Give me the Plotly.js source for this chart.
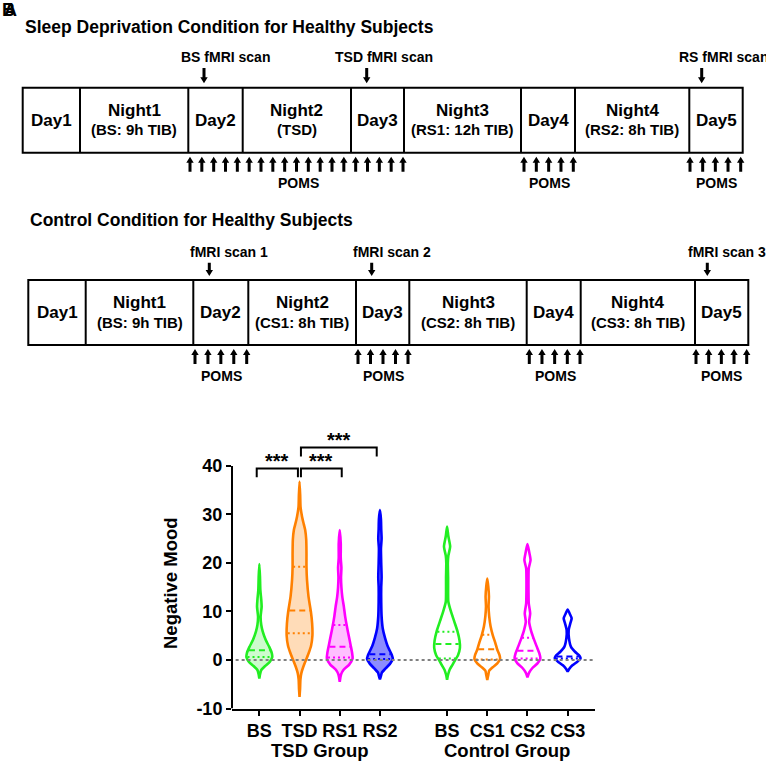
<!DOCTYPE html>
<html><head><meta charset="utf-8">
<script src="https://cdn.plot.ly/plotly-3.0.1.min.js"></script>
<style>html,body{margin:0;padding:0;background:#fff}#chart{width:766px;height:761px}</style>
</head><body><div id="chart"></div>
<script>
// ================= DATA =================
const conditions   = ['BS','TSD','RS1','RS2','BS','CS1','CS2','CS3'];
const conditionPos = [0, 1, 2, 3, 4.67, 5.67, 6.67, 7.67];
const groupLabels  = ['TSD Group','Control Group'];
const yTickVals    = [-10, 0, 10, 20, 30, 40];

// violin density profiles (Negative Mood level, relative density), top to bottom
const bsTsdLevels  = [19.8,17.2,14.4,12.4,11,8.9,7.2,5.9,4.1,2.7,1.4,0.55,-0.35,-1.25,-2.06,-2.9,-3.8];
const bsTsdDensity = [0,0.05,0.08,0.15,0.18,0.1,0.15,0.26,0.5,0.77,0.97,1,0.82,0.45,0.15,0.06,0];
const tsdLevels    = [36.8,34,31.5,29.5,28,26.8,24.8,22,19.2,16.5,13,10,7.5,5,3,1.5,0,-1.5,-2.7,-4,-6,-7.6];
const tsdDensity   = [0,0.05,0.08,0.2,0.33,0.44,0.52,0.54,0.54,0.58,0.7,0.88,0.98,1,0.9,0.72,0.5,0.28,0.14,0.07,0.04,0];
const rs1Levels    = [26.8,24,21,19,17,15,13,11,9,7,5,3,1.5,0.3,-1,-2,-3,-4.5];
const rs1Density   = [0,0.08,0.08,0.13,0.1,0.13,0.2,0.32,0.42,0.55,0.7,0.85,0.96,1,0.72,0.3,0.1,0];
const rs2Levels    = [30.9,29,27,25,23,20,17,15,12,9,6.5,4.5,3,2,1,0.2,-0.8,-1.8,-2.6,-3.3,-4];
const rs2Density   = [0,0.08,0.1,0.13,0.08,0.1,0.13,0.1,0.1,0.13,0.22,0.4,0.58,0.75,0.93,1,0.78,0.42,0.15,0.08,0];
const bsCtlLevels  = [27.5,25.5,23.4,21.5,20,17,14,12,10,8,6,4,2.5,1,0,-1,-2,-3,-4.1];
const bsCtlDensity = [0,0.1,0.24,0.1,0.06,0.08,0.08,0.1,0.3,0.55,0.8,0.97,1,0.85,0.63,0.42,0.2,0.08,0];
const cs1Levels    = [16.8,15.1,13.1,11,9,6.9,5.2,3.5,2.1,1.1,0.2,-0.7,-1.5,-2.2,-3.1,-4.1];
const cs1Density   = [0,0.08,0.13,0.1,0.15,0.26,0.42,0.63,0.78,0.94,1,0.78,0.42,0.15,0.08,0];
const cs2Levels    = [23.9,22.3,20.6,18.9,16.8,14.4,11.7,9.6,7.9,6.2,4.5,2.7,1.4,0.3,-0.7,-1.7,-2.6,-3.6];
const cs2Density   = [0,0.13,0.24,0.1,0.08,0.08,0.1,0.21,0.13,0.26,0.47,0.73,0.92,1,0.78,0.37,0.13,0];
const cs3Levels    = [10.4,9.6,8.6,7.6,6.2,4.5,2.7,1.7,0.8,0.3,-0.4,-1.1,-1.8,-2.4];
const cs3Density   = [0,0.15,0.31,0.21,0.08,0.1,0.26,0.57,0.94,1,0.73,0.37,0.13,0];

const medians   = [2.0, 10.2, 2.75, 1.2, 3.3, 2.2, 1.9, 0.7];
const quartile1 = [0.6, 5.5, 0.5, 0.2, 0.3, 0.1, 0.3, 0.3];
const quartile3 = [null, 19.2, 7.2, null, 5.8, 5.2, 4.6, null];

const sigPairs  = [[0,1],[1,2],[1,3]];
const sigLabels = ['***','***','***'];

// timeline texts
const segMain   = ['Day1','Night1','Day2','Night2','Day3','Night3','Day4','Night4','Day5'];
const sdSub     = ['','(BS: 9h TIB)','','(TSD)','','(RS1: 12h TIB)','','(RS2: 8h TIB)',''];
const ctlSub    = ['','(BS: 9h TIB)','','(CS1: 8h TIB)','','(CS2: 8h TIB)','','(CS3: 8h TIB)',''];
const sdScans   = ['BS fMRI scan','TSD fMRI scan','RS fMRI scan'];
const ctlScans  = ['fMRI scan 1','fMRI scan 2','fMRI scan 3'];
const sdTitle   = 'Sleep Deprivation Condition for Healthy Subjects';
const ctlTitle  = 'Control Condition for Healthy Subjects';
const pomsLabel = 'POMS';

// ================= STYLE / LAYOUT =================
const W = 766, H = 761;
const PX = x => x / W, PY = y => 1 - y / H;
const FONT = 'Liberation Sans, Arial, Helvetica, sans-serif';
const lineColors = ['#22ee22','#ff8000','#ff00ff','#0000ff','#22ee22','#ff8000','#ff00ff','#0000ff'];
const fillColors = ['rgba(34,238,34,0.22)','rgba(255,128,0,0.28)','rgba(255,0,255,0.25)','rgba(0,0,255,0.45)',
                    'rgba(0,0,0,0)','rgba(0,0,0,0)','rgba(0,0,0,0)','rgba(0,0,0,0)'];
const halfWidth = 0.32;

const profiles = [
  [bsTsdLevels,bsTsdDensity],[tsdLevels,tsdDensity],[rs1Levels,rs1Density],[rs2Levels,rs2Density],
  [bsCtlLevels,bsCtlDensity],[cs1Levels,cs1Density],[cs2Levels,cs2Density],[cs3Levels,cs3Density]
];

function densityAt(levels, dens, y) {
  for (let i = 0; i < levels.length - 1; i++) {
    if (levels[i] >= y && y >= levels[i+1]) {
      const t = (levels[i] - y) / (levels[i] - levels[i+1]);
      return dens[i] + t * (dens[i+1] - dens[i]);
    }
  }
  return 0;
}

const traces = [];
profiles.forEach(([lv, dn], k) => {
  const c = conditionPos[k];
  const xs = [], ys = [];
  lv.forEach((y, i) => { xs.push(c + dn[i] * halfWidth); ys.push(y); });
  for (let i = lv.length - 1; i >= 0; i--) { xs.push(c - dn[i] * halfWidth); ys.push(lv[i]); }
  traces.push({
    type: 'scatter', mode: 'lines', x: xs, y: ys, fill: 'toself', fillcolor: fillColors[k],
    line: { color: lineColors[k], width: 2.6, shape: 'spline', smoothing: 0.6 }, hoverinfo: 'skip'
  });
});
// median and quartile lines
profiles.forEach(([lv, dn], k) => {
  const c = conditionPos[k];
  const add = (v, dash) => {
    if (v === null) return;
    const d = densityAt(lv, dn, v) * halfWidth * 0.92;
    traces.push({ type: 'scatter', mode: 'lines', x: [c - d, c + d], y: [v, v],
      line: { color: lineColors[k], width: 2, dash: dash }, hoverinfo: 'skip' });
  };
  add(medians[k], '6px,4px');
  add(quartile1[k], '2px,3px');
  add(quartile3[k], '2px,3px');
});

// significance brackets
const sigBase = [39.5, 39.5, 43.8];
const sigLeg = 1.85;
const sigInset = [[-0.065, -0.04], [0.035, 0.05], [0.035, -0.08]];
const annotations = [];
sigPairs.forEach(([a, b], k) => {
  const xa = conditionPos[a] + sigInset[k][0], xb = conditionPos[b] + sigInset[k][1];
  traces.push({ type: 'scatter', mode: 'lines', x: [xa, xa, xb, xb],
    y: [sigBase[k] - sigLeg, sigBase[k], sigBase[k], sigBase[k] - sigLeg],
    line: { color: '#000', width: 2 }, hoverinfo: 'skip' });
  annotations.push({ xref: 'x', yref: 'y', x: (xa + xb) / 2, y: sigBase[k] - 1.1, xanchor: 'center', yanchor: 'bottom',
    text: '<b>' + sigLabels[k] + '</b>', showarrow: false, font: { size: 20, color: '#000', family: FONT } });
});

const shapes = [];
// zero line
shapes.push({ type: 'line', xref: 'x domain', yref: 'y', x0: 0.01, x1: 0.995, y0: 0, y1: 0,
  line: { color: '#808080', width: 2.2, dash: 'dot' } });
// y axis line (only from -10 to 40)
shapes.push({ type: 'line', xref: 'x domain', yref: 'y', x0: 0, x1: 0, y0: -10, y1: 40,
  line: { color: '#000', width: 2 } });

function txt(x, y, text, size, xanchor, extra) {
  return Object.assign({ xref: 'paper', yref: 'paper', x: PX(x), y: PY(y), xanchor: xanchor || 'center',
    yanchor: 'middle', text: '<b>' + text + '</b>', showarrow: false,
    font: { size: size, color: '#000', family: FONT } }, extra || {});
}

// axis titles
annotations.push(txt(170, 583, 'Negative Mood', 18.5, 'center', { textangle: -90 }));
const groupCenters = [(conditionPos[0] + conditionPos[3]) / 2, (conditionPos[4] + conditionPos[7]) / 2];
groupLabels.forEach((g, i) => annotations.push({ xref: 'x', yref: 'paper', x: groupCenters[i], y: PY(750),
  xanchor: 'center', yanchor: 'middle',
  text: '<b>' + g + '</b>', showarrow: false, font: { size: 18.5, color: '#000', family: FONT } }));

// ---------- timeline diagrams ----------
const rows = [
  { title: sdTitle, titleX: 22.7, titleY: 26.7, top: 87.7, bottom: 152.7,
    edges: [22.7, 80, 188.3, 242.7, 351, 404, 521, 575, 689.3, 742.7], sub: sdSub, scans: sdScans,
    scanX: [204, 366.7, 701.7], scanLabelX: [179, 333, 677], scanLabelY: 57, scanArrow: [68, 83.3],
    pomsRuns: [[190, 403, 19], [524, 573.3, 5], [690, 740.7, 5]], pomsArrow: [156.7, 171.7],
    pomsX: [298, 549, 716], pomsY: 183.3 },
  { title: ctlTitle, titleX: 28.3, titleY: 220, top: 280, bottom: 345,
    edges: [28.3, 85.7, 193.3, 248.3, 356, 409.3, 526.7, 580.7, 695, 748.3], sub: ctlSub, scans: ctlScans,
    scanX: [209.3, 371.7, 707.3], scanLabelX: [188, 350.7, 686], scanLabelY: 252, scanArrow: [262.7, 276],
    pomsRuns: [[195, 246.7, 5], [358, 408, 5], [529.3, 580, 5], [696, 746.7, 5]], pomsArrow: [349, 364],
    pomsX: [221, 383, 555, 721], pomsY: 376 }
];

function arrowPath(x, yTip, yTail) {
  const dir = yTail > yTip ? 1 : -1;   // pixel direction from tip to tail
  const hh = 6 * dir, hw = 3.7, sw = 1.5;
  const pts = [[x, yTip], [x + hw, yTip + hh], [x + sw, yTip + hh], [x + sw, yTail], [x - sw, yTail],
               [x - sw, yTip + hh], [x - hw, yTip + hh]];
  return 'M ' + pts.map(p => PX(p[0]).toFixed(5) + ',' + PY(p[1]).toFixed(5)).join(' L ') + ' Z';
}

rows.forEach(r => {
  annotations.push(txt(r.titleX, r.titleY, r.title, 17.5, 'left'));
  shapes.push({ type: 'rect', xref: 'paper', yref: 'paper', x0: PX(r.edges[0]), x1: PX(r.edges[r.edges.length - 1]),
    y0: PY(r.bottom), y1: PY(r.top), line: { color: '#000', width: 2 } });
  for (let i = 1; i < r.edges.length - 1; i++) {
    shapes.push({ type: 'line', xref: 'paper', yref: 'paper', x0: PX(r.edges[i]), x1: PX(r.edges[i]),
      y0: PY(r.bottom), y1: PY(r.top), line: { color: '#000', width: 2 } });
  }
  segMain.forEach((m, i) => {
    const cx = (r.edges[i] + r.edges[i + 1]) / 2, cy = (r.top + r.bottom) / 2;
    if (r.sub[i]) {
      annotations.push(txt(cx, cy - 10, m, 17));
      annotations.push(txt(cx, cy + 9.5, r.sub[i], 15));
    } else {
      annotations.push(txt(cx, cy, m, 17));
    }
  });
  r.scans.forEach((s, i) => {
    annotations.push(txt(r.scanLabelX[i], r.scanLabelY, s, 14, 'left'));
    shapes.push({ type: 'path', xref: 'paper', yref: 'paper', path: arrowPath(r.scanX[i], r.scanArrow[1], r.scanArrow[0]),
      fillcolor: '#000', line: { width: 0 } });
  });
  r.pomsRuns.forEach(([a, b, n]) => {
    for (let i = 0; i < n; i++) {
      const x = a + (b - a) * i / (n - 1);
      shapes.push({ type: 'path', xref: 'paper', yref: 'paper', path: arrowPath(x, r.pomsArrow[0], r.pomsArrow[1]),
        fillcolor: '#000', line: { width: 0 } });
    }
  });
  r.pomsX.forEach(x => annotations.push(txt(x, r.pomsY, pomsLabel, 14)));
});

// panel letters (overlapping, as in the original)
annotations.push(txt(0, 10, 'B', 18, 'left'));
annotations.push(txt(2, 10, 'A', 18, 'left'));

const layout = {
  width: W, height: H, margin: { l: 0, r: 0, t: 0, b: 0 }, paper_bgcolor: '#fff', plot_bgcolor: 'rgba(0,0,0,0)',
  showlegend: false, hovermode: false,
  font: { family: FONT, color: '#000', weight: 'bold' },
  xaxis: { domain: [PX(232), PX(595)], range: [-0.68, 8.35], showgrid: false, zeroline: false,
    showline: true, linecolor: '#000', linewidth: 2, ticks: 'outside', ticklen: 5, tickwidth: 2, tickcolor: '#000',
    tickvals: conditionPos, ticktext: conditions.map(c => '<b>' + c + '</b>'),
    tickfont: { size: 18, family: FONT, color: '#000', weight: 'bold' } },
  yaxis: { domain: [PY(708.5), PY(432)], range: [-10, 47], showgrid: false, zeroline: false, showline: false,
    ticks: 'outside', ticklen: 5, tickwidth: 2, tickcolor: '#000', tickvals: yTickVals,
    ticktext: yTickVals.map(v => '<b>' + v + '</b>'),
    tickfont: { size: 18, family: FONT, color: '#000', weight: 'bold' } },
  shapes: shapes, annotations: annotations
};

Plotly.newPlot('chart', traces, layout, { staticPlot: true, displayModeBar: false });
</script></body></html>
